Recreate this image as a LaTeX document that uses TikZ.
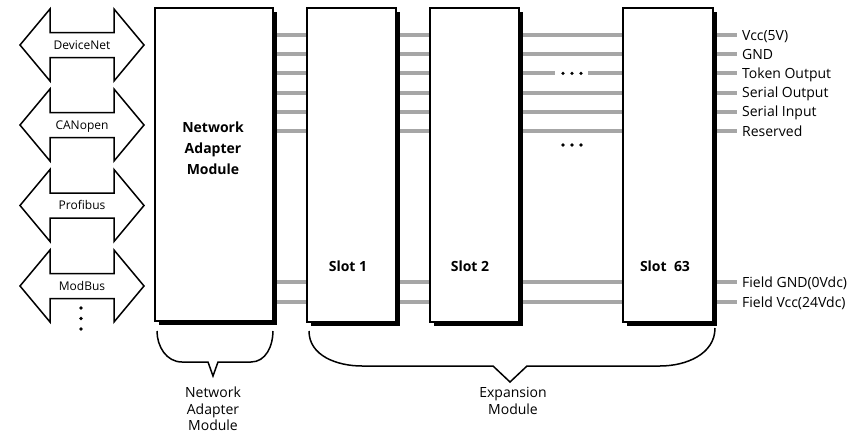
\documentclass[tikz,border=0pt]{standalone}
\usepackage{fontspec}
\setmainfont{Open Sans}
\usetikzlibrary{shadows,backgrounds,calc}
\definecolor{busgray}{RGB}{166,166,166}
\tikzset{
  modbox/.style={draw=black, line width=1.5pt, fill=white, inner sep=0pt,
    anchor=north west,
    drop shadow={shadow xshift=4.5pt, shadow yshift=-4.5pt, opacity=1, fill=black}},
  bus/.style={draw=busgray, line width=4pt},
  boldlbl/.style={font=\fontsize{14}{21}\selectfont\bfseries, align=center, inner sep=0pt},
  pinlbl/.style={font=\fontsize{14}{16}\selectfont, anchor=west, inner sep=0pt, text height=10pt, text depth=0pt},
  arrlbl/.style={font=\fontsize{12}{14}\selectfont, inner sep=0pt, text height=8.6pt, text depth=0pt},
  undlbl/.style={font=\fontsize{14}{16.5}\selectfont, align=center, inner sep=0pt},
  arrowline/.style={draw=black, line width=1.5pt, line join=miter},
  braceline/.style={draw=black, line width=1.5pt},
  dotmark/.style={fill=black}
}
\begin{document}
\begin{tikzpicture}[x=1pt,y=-1pt]
\useasboundingbox (0,0) rectangle (868,447);

% modules
\node[modbox, minimum width=118pt, minimum height=313pt] (nam) at (154,7) {};
\node[modbox, minimum width=89pt, minimum height=314pt] (s1) at (306,7) {};
\node[modbox, minimum width=89pt, minimum height=314pt] (s2) at (429,7) {};
\node[modbox, minimum width=90pt, minimum height=314pt] (s63) at (622,7) {};

\node[boldlbl] (namt) at (213,148) {Network\\Adapter\\Module};
\node[boldlbl] (s1t) at (348,266) {Slot 1};
\node[boldlbl] (s2t) at (470,266) {Slot 2};
\node[boldlbl] (s63t) at (665,266) {Slot\ \ 63};

% pin labels
\node[pinlbl] (l1) at (742,35) {Vcc(5V)};
\node[pinlbl] (l2) at (742,54.2) {GND};
\node[pinlbl] (l3) at (742,73.4) {Token Output};
\node[pinlbl] (l4) at (742,92.6) {Serial Output};
\node[pinlbl] (l5) at (742,111.8) {Serial Input};
\node[pinlbl] (l6) at (742,131) {Reserved};
\node[pinlbl] (l7) at (742,282) {Field GND(0Vdc)};
\node[pinlbl] (l8) at (742,302) {Field Vcc(24Vdc)};

\coordinate (gapL) at (555,73.4);
\coordinate (gapR) at (588,73.4);

% bus lines
\begin{scope}[on background layer]
\foreach \r in {l1,l2,l3,l4,l5,l6,l7,l8}{
  \draw[bus] (nam.east |- \r.west) -- (s1.west |- \r.west);
  \draw[bus] (s1.east |- \r.west) -- (s2.west |- \r.west);
  \draw[bus] (s63.east |- \r.west) -- ([xshift=-5pt]\r.west);
}
\foreach \r in {l1,l2,l4,l5,l6,l7,l8}{
  \draw[bus] (s2.east |- \r.west) -- (s63.west |- \r.west);
}
\draw[bus] (s2.east |- gapL) -- (gapL);
\draw[bus] (gapR) -- (s63.west |- gapR);
\end{scope}

% ellipsis dots
\foreach \x in {563,572,581}{
  \fill[dotmark] (\x,73.4) circle[radius=1.8pt];
  \fill[dotmark] (\x,145) circle[radius=1.8pt];
}

% network arrows
\node[arrlbl] (dn) at (82,45) {DeviceNet};
\node[arrlbl] (co) at (82,125) {CANopen};
\node[arrlbl] (pb) at (82,205.5) {Profibus};
\node[arrlbl] (mb) at (82,286) {ModBus};
\foreach \n in {dn,co,pb,mb}{
  \begin{scope}[shift={(\n.center)}]
    \draw[arrowline] (-62,0) -- (-32,-36) -- (-32,-12.5) -- (32,-12.5) -- (32,-36)
      -- (62,0) -- (32,36) -- (32,12.5) -- (-32,12.5) -- (-32,36) -- cycle;
  \end{scope}
}
\foreach \y in {308,318.5,329}{
  \fill[dotmark] (81,\y) circle[radius=1.8pt];
}

% braces
\draw[braceline] (157,331) to[out=-90,in=180] (182,362) -- (208,362) -- (213,376)
  -- (218,362) -- (251,362) to[out=0,in=-90] (273,331);
\draw[braceline] (309,331) to[out=-90,in=180] (362,366) -- (493,366) -- (510,382)
  -- (527,366) -- (660,366) to[out=0,in=-90] (715,328);

\node[undlbl] (namb) at (213,409) {Network\\Adapter\\Module};
\node[undlbl] (expb) at (513,401) {Expansion\\Module};
\end{tikzpicture}
\end{document}
